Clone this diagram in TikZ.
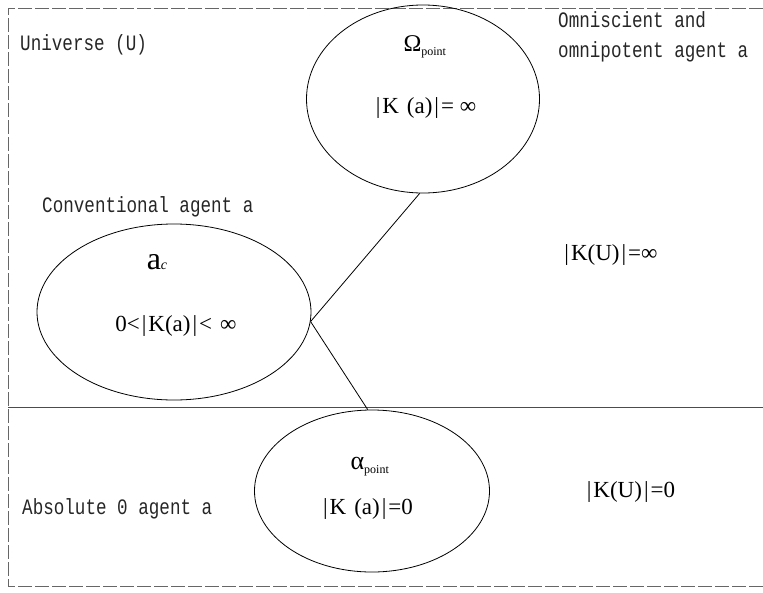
\documentclass[tikz,border=0pt]{standalone}
\usepackage{fontspec}
\setmainfont{Liberation Serif}
\newfontfamily\labelfont[FakeStretch=0.8]{Liberation Mono}
\usetikzlibrary{shapes.geometric}

\tikzstyle{agent} = [draw, ellipse, inner sep=0pt, line width=0.8pt]
\tikzstyle{tag} = [font=\labelfont\fontsize{22}{30}\selectfont, anchor=west, inner sep=0pt, text=black!85, align=left]
\tikzstyle{formula} = [font=\fontsize{23}{25}\selectfont, inner sep=0pt]
\tikzstyle{frame} = [draw=black!60, dash pattern=on 14pt off 3pt, line width=0.8pt]
\tikzstyle{link} = [draw, line width=0.8pt]
\newcommand{\sub}[1]{\textsubscript{\fontsize{12}{12}\selectfont #1}}
\newcommand{\vb}{\hspace{2pt}|\hspace{2pt}}

\begin{document}
\begin{tikzpicture}[x=1pt, y=-1pt]
	\useasboundingbox (0,0) rectangle (763,592);
	% universe frame and the zero line
	\draw [frame] (763,8) -- (8,8) -- (8,586) -- (763,586);
	\draw [draw=black!70, line width=0.9pt] (8,407) -- (763,407);

	\node [agent, minimum width=233pt, minimum height=188pt] (omega) at (423,99) {};
	\node [agent, minimum width=274pt, minimum height=176pt] (ac) at (174,312) {};
	\node [agent, minimum width=235pt, minimum height=162pt] (alpha) at (372,491) {};

	\draw [link] (ac.-4) -- (omega.-92);
	\draw [link] (ac.-4) -- (alpha.93);

	% texts inside the agents
	\node [formula, font=\fontsize{24}{26}\selectfont] (omeganame) at (425,47) {Ω\sub{point}};
	\node [formula] (omegak) at (425,108) {\vb K\hspace{8pt}(a)\vb= ∞};
	\node [formula, font=\fontsize{32}{34}\selectfont] (acname) at (157,262) {a{\fontsize{14}{14}\selectfont\textit{c}}};
	\node [formula] (ack) at (176,326) {0<\vb K(a)\vb<\hspace{8pt}∞};
	\node [formula, font=\fontsize{26}{28}\selectfont] (alphaname) at (370,467) {α\sub{point}};
	\node [formula] (alphak) at (367,509) {\vb K\hspace{8pt}(a)\vb=0};

	% universe values
	\node [formula] (uinf) at (610,255) {\vb K(U)\vb=∞};
	\node [formula] (uzero) at (630,492) {\vb K(U)\vb=0};

	% agent names
	\node [tag] (universe) at (20,45) {Universe (U)};
	\node [tag] (omni) at (558,37) {Omniscient and\\omnipotent agent a};
	\node [tag] (conv) at (42,207) {Conventional agent a};
	\node [tag] (zero) at (22,509) {Absolute 0 agent a};
\end{tikzpicture}
\end{document}
